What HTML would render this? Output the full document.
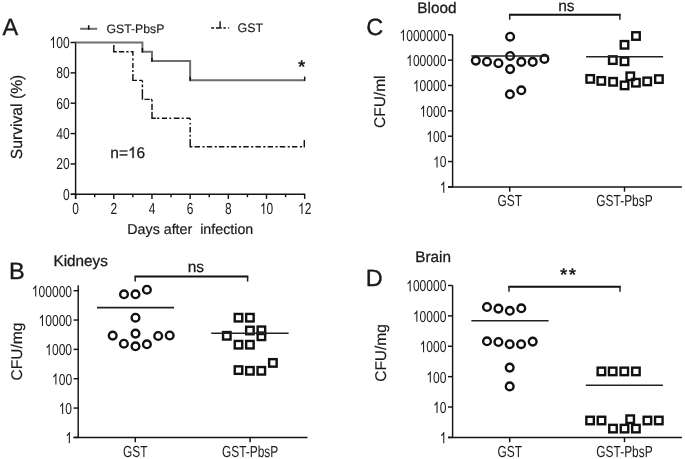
<!DOCTYPE html>
<html><head><meta charset="utf-8"><style>
html,body{margin:0;padding:0;background:#fff;}
svg{display:block;font-family:"Liberation Sans", sans-serif;will-change:transform;text-rendering:geometricPrecision;}
</style></head><body>
<svg width="685" height="459" viewBox="0 0 685 459">
<rect width="685" height="459" fill="#fff"/>
<text transform="translate(2.50,34.50)" font-size="23.5" text-anchor="start" font-weight="normal" fill="#1a1a1a" stroke="#1a1a1a" stroke-width="0.35">A</text>
<line x1="75.60" y1="41.80" x2="75.60" y2="198.90" stroke="#141414" stroke-width="1.45" />
<line x1="70.60" y1="194.30" x2="75.60" y2="194.30" stroke="#141414" stroke-width="1.45" />
<text transform="translate(69.70,199.70) scale(0.765,1)" font-size="15.8" text-anchor="end" font-weight="normal" fill="#1a1a1a">0</text>
<line x1="70.60" y1="163.94" x2="75.60" y2="163.94" stroke="#141414" stroke-width="1.45" />
<text transform="translate(69.70,169.34) scale(0.765,1)" font-size="15.8" text-anchor="end" font-weight="normal" fill="#1a1a1a">20</text>
<line x1="70.60" y1="133.58" x2="75.60" y2="133.58" stroke="#141414" stroke-width="1.45" />
<text transform="translate(69.70,138.98) scale(0.765,1)" font-size="15.8" text-anchor="end" font-weight="normal" fill="#1a1a1a">40</text>
<line x1="70.60" y1="103.22" x2="75.60" y2="103.22" stroke="#141414" stroke-width="1.45" />
<text transform="translate(69.70,108.62) scale(0.765,1)" font-size="15.8" text-anchor="end" font-weight="normal" fill="#1a1a1a">60</text>
<line x1="70.60" y1="72.86" x2="75.60" y2="72.86" stroke="#141414" stroke-width="1.45" />
<text transform="translate(69.70,78.26) scale(0.765,1)" font-size="15.8" text-anchor="end" font-weight="normal" fill="#1a1a1a">80</text>
<line x1="70.60" y1="42.50" x2="75.60" y2="42.50" stroke="#141414" stroke-width="1.45" />
<text transform="translate(69.70,47.90) scale(0.765,1)" font-size="15.8" text-anchor="end" font-weight="normal" fill="#1a1a1a"> 00</text>
<path transform="translate(49.53,47.90) scale(0.00590,-0.00771)" d="M763 0L583 0L583 1147C540 1106 484 1065 415 1024C346 983 284 952 229 931L229 1105C328 1152 414 1208 488 1274C562 1340 614 1404 645 1466L763 1466Z" fill="#1a1a1a"/>
<line x1="71.00" y1="194.30" x2="305.30" y2="194.30" stroke="#141414" stroke-width="1.45" />
<line x1="75.60" y1="194.30" x2="75.60" y2="198.90" stroke="#141414" stroke-width="1.45" />
<text transform="translate(75.60,214.10) scale(0.745,1)" font-size="16" text-anchor="middle" font-weight="normal" fill="#1a1a1a">0</text>
<line x1="94.69" y1="194.30" x2="94.69" y2="197.20" stroke="#141414" stroke-width="1.45" />
<line x1="113.78" y1="194.30" x2="113.78" y2="198.90" stroke="#141414" stroke-width="1.45" />
<text transform="translate(113.78,214.10) scale(0.745,1)" font-size="16" text-anchor="middle" font-weight="normal" fill="#1a1a1a">2</text>
<line x1="132.87" y1="194.30" x2="132.87" y2="197.20" stroke="#141414" stroke-width="1.45" />
<line x1="151.96" y1="194.30" x2="151.96" y2="198.90" stroke="#141414" stroke-width="1.45" />
<text transform="translate(151.96,214.10) scale(0.745,1)" font-size="16" text-anchor="middle" font-weight="normal" fill="#1a1a1a">4</text>
<line x1="171.05" y1="194.30" x2="171.05" y2="197.20" stroke="#141414" stroke-width="1.45" />
<line x1="190.14" y1="194.30" x2="190.14" y2="198.90" stroke="#141414" stroke-width="1.45" />
<text transform="translate(190.14,214.10) scale(0.745,1)" font-size="16" text-anchor="middle" font-weight="normal" fill="#1a1a1a">6</text>
<line x1="209.23" y1="194.30" x2="209.23" y2="197.20" stroke="#141414" stroke-width="1.45" />
<line x1="228.32" y1="194.30" x2="228.32" y2="198.90" stroke="#141414" stroke-width="1.45" />
<text transform="translate(228.32,214.10) scale(0.745,1)" font-size="16" text-anchor="middle" font-weight="normal" fill="#1a1a1a">8</text>
<line x1="247.41" y1="194.30" x2="247.41" y2="197.20" stroke="#141414" stroke-width="1.45" />
<line x1="266.50" y1="194.30" x2="266.50" y2="198.90" stroke="#141414" stroke-width="1.45" />
<text transform="translate(266.50,214.10) scale(0.745,1)" font-size="16" text-anchor="middle" font-weight="normal" fill="#1a1a1a"> 0</text>
<path transform="translate(259.87,214.10) scale(0.00582,-0.00781)" d="M763 0L583 0L583 1147C540 1106 484 1065 415 1024C346 983 284 952 229 931L229 1105C328 1152 414 1208 488 1274C562 1340 614 1404 645 1466L763 1466Z" fill="#1a1a1a"/>
<line x1="285.59" y1="194.30" x2="285.59" y2="197.20" stroke="#141414" stroke-width="1.45" />
<line x1="304.68" y1="194.30" x2="304.68" y2="198.90" stroke="#141414" stroke-width="1.45" />
<text transform="translate(304.68,214.10) scale(0.745,1)" font-size="16" text-anchor="middle" font-weight="normal" fill="#1a1a1a"> 2</text>
<path transform="translate(298.05,214.10) scale(0.00582,-0.00781)" d="M763 0L583 0L583 1147C540 1106 484 1065 415 1024C346 983 284 952 229 931L229 1105C328 1152 414 1208 488 1274C562 1340 614 1404 645 1466L763 1466Z" fill="#1a1a1a"/>
<text transform="translate(127.30,234.20)" font-size="14.25" text-anchor="start" font-weight="normal" fill="#1a1a1a" stroke="#1a1a1a" stroke-width="0.2">Days after&#160; infection</text>
<text transform="translate(22.00,159.20) rotate(-90) scale(0.98,1)" font-size="16" text-anchor="start" font-weight="normal" fill="#1a1a1a" stroke="#1a1a1a" stroke-width="0.2">Survival (%)</text>
<line x1="80.10" y1="28.80" x2="97.20" y2="28.80" stroke="#6e6e6e" stroke-width="2.0" />
<line x1="88.70" y1="25.20" x2="88.70" y2="29.70" stroke="#111" stroke-width="1.6" />
<text transform="translate(106.50,32.80)" font-size="12.25" text-anchor="start" font-weight="normal" fill="#1a1a1a" stroke="#1a1a1a" stroke-width="0.15">GST-PbsP</text>
<line x1="211.20" y1="27.95" x2="214.10" y2="27.95" stroke="#111" stroke-width="1.5" />
<line x1="216.00" y1="27.95" x2="221.70" y2="27.95" stroke="#111" stroke-width="1.5" />
<line x1="223.40" y1="27.95" x2="225.80" y2="27.95" stroke="#111" stroke-width="1.5" />
<line x1="227.90" y1="27.95" x2="229.10" y2="27.95" stroke="#444" stroke-width="1.5" />
<line x1="220.10" y1="21.30" x2="220.10" y2="28.00" stroke="#222" stroke-width="1.5" />
<text transform="translate(237.60,32.00)" font-size="12.4" text-anchor="start" font-weight="normal" fill="#1a1a1a" stroke="#1a1a1a" stroke-width="0.15">GST</text>
<path d="M75.6,42.60 H142.41 V51.75 H151.96 V61.10 H190.14 V80.15 H304.68" stroke="#6e6e6e" stroke-width="2.0" fill="none"/>
<line x1="142.41" y1="47.95" x2="142.41" y2="52.45" stroke="#111" stroke-width="1.5" />
<line x1="151.96" y1="57.70" x2="151.96" y2="61.80" stroke="#111" stroke-width="1.5" />
<line x1="190.14" y1="76.75" x2="190.14" y2="80.85" stroke="#111" stroke-width="1.5" />
<line x1="304.68" y1="76.55" x2="304.68" y2="80.95" stroke="#111" stroke-width="1.45" />
<path d="M113.80,42.50 L113.80,51.80 L132.90,51.80 L132.90,80.35 L142.40,80.35 L142.40,99.35 L152.00,99.35 L152.00,118.30 L190.20,118.30 L190.20,146.70 L304.50,146.70" stroke="#111" stroke-width="1.45" fill="none" stroke-dasharray="0.00,2.40,9.90,2.10,5.30,2.10,2.30,2.10,6.20,2.40,2.30,2.40,5.10,2.00,1.90,2.00,10.55,2.10,3.30,0.05,2.10,2.00,2.80,2.00,10.10,2.05,5.30,1.10,1.10,0.05,2.40,2.00,6.20,1.80,10.30,1.30,2.20,2.60,5.10,2.30,1.90,2.60,5.70,2.30,1.90,2.60,3.90,0.10,1.50,3.10,1.60,2.30,5.50,2.40,1.90,2.40,9.80,2.20,5.40,2.50,2.10,2.17,5.40,2.50,2.10,2.17,5.40,2.50,2.10,2.17,5.40,2.50,2.10,2.17,5.40,2.50,2.10,2.17,5.40,2.50,2.10,2.17,5.40,2.50,2.10,2.17,5.40,2.50,2.10,2.17,5.40,2.50,2.10,7.54"/>
<line x1="304.30" y1="140.10" x2="304.30" y2="147.40" stroke="#111" stroke-width="1.45" />
<text transform="translate(301.60,72.60)" font-size="18.7" text-anchor="middle" font-weight="bold" fill="#1a1a1a">*</text>
<text transform="translate(110.30,157.90)" font-size="15.5" text-anchor="start" font-weight="normal" fill="#1a1a1a" stroke="#1a1a1a" stroke-width="0.25">n= 6</text>
<path transform="translate(127.97,157.9) scale(0.00757,-0.00757)" d="M763 0L583 0L583 1147C540 1106 484 1065 415 1024C346 983 284 952 229 931L229 1105C328 1152 414 1208 488 1274C562 1340 614 1404 645 1466L763 1466Z" fill="#1a1a1a" stroke="#1a1a1a" stroke-width="33.0"/>
<text transform="translate(9.00,279.30)" font-size="23.5" text-anchor="start" font-weight="normal" fill="#1a1a1a" stroke="#1a1a1a" stroke-width="0.35">B</text>
<text transform="translate(53.50,265.80)" font-size="15.3" text-anchor="start" font-weight="normal" fill="#1a1a1a" stroke="#1a1a1a" stroke-width="0.3">Kidneys</text>
<text transform="translate(22.20,380.40) rotate(-90)" font-size="15.5" text-anchor="start" font-weight="normal" fill="#1a1a1a" stroke="#1a1a1a" stroke-width="0.15">CFU/mg</text>
<line x1="78.20" y1="285.30" x2="78.20" y2="438.05" stroke="#141414" stroke-width="1.45" />
<line x1="73.60" y1="437.40" x2="78.20" y2="437.40" stroke="#141414" stroke-width="1.45" />
<path transform="translate(65.38,443.30) scale(0.00590,-0.00771)" d="M763 0L583 0L583 1147C540 1106 484 1065 415 1024C346 983 284 952 229 931L229 1105C328 1152 414 1208 488 1274C562 1340 614 1404 645 1466L763 1466Z" fill="#1a1a1a"/>
<line x1="73.60" y1="408.06" x2="78.20" y2="408.06" stroke="#141414" stroke-width="1.45" />
<text transform="translate(72.10,413.96) scale(0.765,1)" font-size="15.8" text-anchor="end" font-weight="normal" fill="#1a1a1a"> 0</text>
<path transform="translate(58.66,413.96) scale(0.00590,-0.00771)" d="M763 0L583 0L583 1147C540 1106 484 1065 415 1024C346 983 284 952 229 931L229 1105C328 1152 414 1208 488 1274C562 1340 614 1404 645 1466L763 1466Z" fill="#1a1a1a"/>
<line x1="73.60" y1="378.72" x2="78.20" y2="378.72" stroke="#141414" stroke-width="1.45" />
<text transform="translate(72.10,384.62) scale(0.765,1)" font-size="15.8" text-anchor="end" font-weight="normal" fill="#1a1a1a"> 00</text>
<path transform="translate(51.93,384.62) scale(0.00590,-0.00771)" d="M763 0L583 0L583 1147C540 1106 484 1065 415 1024C346 983 284 952 229 931L229 1105C328 1152 414 1208 488 1274C562 1340 614 1404 645 1466L763 1466Z" fill="#1a1a1a"/>
<line x1="73.60" y1="349.38" x2="78.20" y2="349.38" stroke="#141414" stroke-width="1.45" />
<text transform="translate(72.10,355.28) scale(0.765,1)" font-size="15.8" text-anchor="end" font-weight="normal" fill="#1a1a1a"> 000</text>
<path transform="translate(45.21,355.28) scale(0.00590,-0.00771)" d="M763 0L583 0L583 1147C540 1106 484 1065 415 1024C346 983 284 952 229 931L229 1105C328 1152 414 1208 488 1274C562 1340 614 1404 645 1466L763 1466Z" fill="#1a1a1a"/>
<line x1="73.60" y1="320.04" x2="78.20" y2="320.04" stroke="#141414" stroke-width="1.45" />
<text transform="translate(72.10,325.94) scale(0.765,1)" font-size="15.8" text-anchor="end" font-weight="normal" fill="#1a1a1a"> 0000</text>
<path transform="translate(38.49,325.94) scale(0.00590,-0.00771)" d="M763 0L583 0L583 1147C540 1106 484 1065 415 1024C346 983 284 952 229 931L229 1105C328 1152 414 1208 488 1274C562 1340 614 1404 645 1466L763 1466Z" fill="#1a1a1a"/>
<line x1="73.60" y1="290.70" x2="78.20" y2="290.70" stroke="#141414" stroke-width="1.45" />
<text transform="translate(72.10,296.60) scale(0.765,1)" font-size="15.8" text-anchor="end" font-weight="normal" fill="#1a1a1a"> 00000</text>
<path transform="translate(31.77,296.60) scale(0.00590,-0.00771)" d="M763 0L583 0L583 1147C540 1106 484 1065 415 1024C346 983 284 952 229 931L229 1105C328 1152 414 1208 488 1274C562 1340 614 1404 645 1466L763 1466Z" fill="#1a1a1a"/>
<line x1="73.60" y1="437.40" x2="307.50" y2="437.40" stroke="#141414" stroke-width="1.45" />
<line x1="135.30" y1="437.40" x2="135.30" y2="442.20" stroke="#141414" stroke-width="1.45" />
<line x1="250.10" y1="437.40" x2="250.10" y2="442.20" stroke="#141414" stroke-width="1.45" />
<text transform="translate(135.30,456.70) scale(0.745,1)" font-size="16" text-anchor="middle" font-weight="normal" fill="#1a1a1a">GST</text>
<text transform="translate(250.10,456.70) scale(0.745,1)" font-size="16" text-anchor="middle" font-weight="normal" fill="#1a1a1a">GST-PbsP</text>
<line x1="134.45" y1="276.50" x2="248.35" y2="276.50" stroke="#111" stroke-width="2.1" />
<line x1="135.20" y1="276.50" x2="135.20" y2="281.60" stroke="#222" stroke-width="1.5" />
<line x1="247.60" y1="276.50" x2="247.60" y2="281.60" stroke="#222" stroke-width="1.5" />
<text transform="translate(195.90,271.65)" font-size="15.5" text-anchor="middle" font-weight="normal" fill="#1a1a1a" stroke="#1a1a1a" stroke-width="0.25">ns</text>
<circle cx="124" cy="294.3" r="3.85" stroke="#111" stroke-width="2.4" fill="none"/>
<circle cx="135.5" cy="294.3" r="3.85" stroke="#111" stroke-width="2.4" fill="none"/>
<circle cx="146.9" cy="289.7" r="3.85" stroke="#111" stroke-width="2.4" fill="none"/>
<circle cx="135.5" cy="317.7" r="3.85" stroke="#111" stroke-width="2.4" fill="none"/>
<circle cx="112.7" cy="335.6" r="3.85" stroke="#111" stroke-width="2.4" fill="none"/>
<circle cx="135.5" cy="333.6" r="3.85" stroke="#111" stroke-width="2.4" fill="none"/>
<circle cx="158.2" cy="336.0" r="3.85" stroke="#111" stroke-width="2.4" fill="none"/>
<circle cx="169.7" cy="335.5" r="3.85" stroke="#111" stroke-width="2.4" fill="none"/>
<circle cx="123.9" cy="343.7" r="3.85" stroke="#111" stroke-width="2.4" fill="none"/>
<circle cx="135.5" cy="346.3" r="3.85" stroke="#111" stroke-width="2.4" fill="none"/>
<circle cx="146.9" cy="344.3" r="3.85" stroke="#111" stroke-width="2.4" fill="none"/>
<rect x="234.75" y="313.95" width="7.5" height="7.5" stroke="#111" stroke-width="2.4" fill="none"/>
<rect x="246.15" y="313.95" width="7.5" height="7.5" stroke="#111" stroke-width="2.4" fill="none"/>
<rect x="246.15" y="326.75" width="7.5" height="7.5" stroke="#111" stroke-width="2.4" fill="none"/>
<rect x="257.65" y="326.55" width="7.5" height="7.5" stroke="#111" stroke-width="2.4" fill="none"/>
<rect x="257.65" y="332.55" width="7.5" height="7.5" stroke="#111" stroke-width="2.4" fill="none"/>
<rect x="223.05" y="332.05" width="7.5" height="7.5" stroke="#111" stroke-width="2.4" fill="none"/>
<rect x="234.75" y="340.95" width="7.5" height="7.5" stroke="#111" stroke-width="2.4" fill="none"/>
<rect x="246.15" y="340.95" width="7.5" height="7.5" stroke="#111" stroke-width="2.4" fill="none"/>
<rect x="269.15" y="359.15" width="7.5" height="7.5" stroke="#111" stroke-width="2.4" fill="none"/>
<rect x="234.75" y="366.35" width="7.5" height="7.5" stroke="#111" stroke-width="2.4" fill="none"/>
<rect x="246.15" y="367.05" width="7.5" height="7.5" stroke="#111" stroke-width="2.4" fill="none"/>
<rect x="257.55" y="367.05" width="7.5" height="7.5" stroke="#111" stroke-width="2.4" fill="none"/>
<line x1="97.00" y1="307.60" x2="174.10" y2="307.60" stroke="#222" stroke-width="1.6" />
<line x1="211.20" y1="333.20" x2="288.60" y2="333.20" stroke="#222" stroke-width="1.6" />
<text transform="translate(366.30,35.40)" font-size="23.5" text-anchor="start" font-weight="normal" fill="#1a1a1a" stroke="#1a1a1a" stroke-width="0.35">C</text>
<text transform="translate(417.30,13.00)" font-size="15.3" text-anchor="start" font-weight="normal" fill="#1a1a1a" stroke="#1a1a1a" stroke-width="0.3">Blood</text>
<text transform="translate(384.90,128.00) rotate(-90)" font-size="15.5" text-anchor="start" font-weight="normal" fill="#1a1a1a" stroke="#1a1a1a" stroke-width="0.15">CFU/ml</text>
<line x1="452.60" y1="34.80" x2="452.60" y2="187.55" stroke="#141414" stroke-width="1.45" />
<line x1="448.00" y1="186.90" x2="452.60" y2="186.90" stroke="#141414" stroke-width="1.45" />
<path transform="translate(439.78,192.80) scale(0.00590,-0.00771)" d="M763 0L583 0L583 1147C540 1106 484 1065 415 1024C346 983 284 952 229 931L229 1105C328 1152 414 1208 488 1274C562 1340 614 1404 645 1466L763 1466Z" fill="#1a1a1a"/>
<line x1="448.00" y1="161.55" x2="452.60" y2="161.55" stroke="#141414" stroke-width="1.45" />
<text transform="translate(446.50,167.45) scale(0.765,1)" font-size="15.8" text-anchor="end" font-weight="normal" fill="#1a1a1a"> 0</text>
<path transform="translate(433.06,167.45) scale(0.00590,-0.00771)" d="M763 0L583 0L583 1147C540 1106 484 1065 415 1024C346 983 284 952 229 931L229 1105C328 1152 414 1208 488 1274C562 1340 614 1404 645 1466L763 1466Z" fill="#1a1a1a"/>
<line x1="448.00" y1="136.20" x2="452.60" y2="136.20" stroke="#141414" stroke-width="1.45" />
<text transform="translate(446.50,142.10) scale(0.765,1)" font-size="15.8" text-anchor="end" font-weight="normal" fill="#1a1a1a"> 00</text>
<path transform="translate(426.33,142.10) scale(0.00590,-0.00771)" d="M763 0L583 0L583 1147C540 1106 484 1065 415 1024C346 983 284 952 229 931L229 1105C328 1152 414 1208 488 1274C562 1340 614 1404 645 1466L763 1466Z" fill="#1a1a1a"/>
<line x1="448.00" y1="110.85" x2="452.60" y2="110.85" stroke="#141414" stroke-width="1.45" />
<text transform="translate(446.50,116.75) scale(0.765,1)" font-size="15.8" text-anchor="end" font-weight="normal" fill="#1a1a1a"> 000</text>
<path transform="translate(419.61,116.75) scale(0.00590,-0.00771)" d="M763 0L583 0L583 1147C540 1106 484 1065 415 1024C346 983 284 952 229 931L229 1105C328 1152 414 1208 488 1274C562 1340 614 1404 645 1466L763 1466Z" fill="#1a1a1a"/>
<line x1="448.00" y1="85.50" x2="452.60" y2="85.50" stroke="#141414" stroke-width="1.45" />
<text transform="translate(446.50,91.40) scale(0.765,1)" font-size="15.8" text-anchor="end" font-weight="normal" fill="#1a1a1a"> 0000</text>
<path transform="translate(412.89,91.40) scale(0.00590,-0.00771)" d="M763 0L583 0L583 1147C540 1106 484 1065 415 1024C346 983 284 952 229 931L229 1105C328 1152 414 1208 488 1274C562 1340 614 1404 645 1466L763 1466Z" fill="#1a1a1a"/>
<line x1="448.00" y1="60.15" x2="452.60" y2="60.15" stroke="#141414" stroke-width="1.45" />
<text transform="translate(446.50,66.05) scale(0.765,1)" font-size="15.8" text-anchor="end" font-weight="normal" fill="#1a1a1a"> 00000</text>
<path transform="translate(406.17,66.05) scale(0.00590,-0.00771)" d="M763 0L583 0L583 1147C540 1106 484 1065 415 1024C346 983 284 952 229 931L229 1105C328 1152 414 1208 488 1274C562 1340 614 1404 645 1466L763 1466Z" fill="#1a1a1a"/>
<line x1="448.00" y1="34.80" x2="452.60" y2="34.80" stroke="#141414" stroke-width="1.45" />
<text transform="translate(446.50,40.70) scale(0.765,1)" font-size="15.8" text-anchor="end" font-weight="normal" fill="#1a1a1a"> 000000</text>
<path transform="translate(399.44,40.70) scale(0.00590,-0.00771)" d="M763 0L583 0L583 1147C540 1106 484 1065 415 1024C346 983 284 952 229 931L229 1105C328 1152 414 1208 488 1274C562 1340 614 1404 645 1466L763 1466Z" fill="#1a1a1a"/>
<line x1="448.00" y1="186.90" x2="681.90" y2="186.90" stroke="#141414" stroke-width="1.45" />
<line x1="509.70" y1="186.90" x2="509.70" y2="191.70" stroke="#141414" stroke-width="1.45" />
<line x1="624.50" y1="186.90" x2="624.50" y2="191.70" stroke="#141414" stroke-width="1.45" />
<text transform="translate(509.70,206.20) scale(0.745,1)" font-size="16" text-anchor="middle" font-weight="normal" fill="#1a1a1a">GST</text>
<text transform="translate(624.50,206.20) scale(0.745,1)" font-size="16" text-anchor="middle" font-weight="normal" fill="#1a1a1a">GST-PbsP</text>
<line x1="508.95" y1="14.80" x2="620.65" y2="14.80" stroke="#111" stroke-width="2.1" />
<line x1="509.70" y1="14.80" x2="509.70" y2="19.70" stroke="#222" stroke-width="1.5" />
<line x1="619.90" y1="14.80" x2="619.90" y2="19.70" stroke="#222" stroke-width="1.5" />
<text transform="translate(566.40,10.50)" font-size="15.5" text-anchor="middle" font-weight="normal" fill="#1a1a1a" stroke="#1a1a1a" stroke-width="0.25">ns</text>
<circle cx="510.1" cy="36.7" r="3.85" stroke="#111" stroke-width="2.4" fill="none"/>
<circle cx="510.1" cy="56.0" r="3.85" stroke="#111" stroke-width="2.4" fill="none"/>
<circle cx="475.8" cy="60.6" r="3.85" stroke="#111" stroke-width="2.4" fill="none"/>
<circle cx="487.0" cy="61.7" r="3.85" stroke="#111" stroke-width="2.4" fill="none"/>
<circle cx="498.4" cy="63.2" r="3.85" stroke="#111" stroke-width="2.4" fill="none"/>
<circle cx="521.3" cy="61.9" r="3.85" stroke="#111" stroke-width="2.4" fill="none"/>
<circle cx="532.7" cy="61.9" r="3.85" stroke="#111" stroke-width="2.4" fill="none"/>
<circle cx="544.4" cy="58.9" r="3.85" stroke="#111" stroke-width="2.4" fill="none"/>
<circle cx="510.1" cy="69.1" r="3.85" stroke="#111" stroke-width="2.4" fill="none"/>
<circle cx="509.9" cy="94.3" r="3.85" stroke="#111" stroke-width="2.4" fill="none"/>
<circle cx="521.3" cy="90.3" r="3.85" stroke="#111" stroke-width="2.4" fill="none"/>
<rect x="632.25" y="32.25" width="7.5" height="7.5" stroke="#111" stroke-width="2.4" fill="none"/>
<rect x="620.75" y="41.05" width="7.5" height="7.5" stroke="#111" stroke-width="2.4" fill="none"/>
<rect x="609.05" y="56.35" width="7.5" height="7.5" stroke="#111" stroke-width="2.4" fill="none"/>
<rect x="620.75" y="57.55" width="7.5" height="7.5" stroke="#111" stroke-width="2.4" fill="none"/>
<rect x="586.45" y="75.15" width="7.5" height="7.5" stroke="#111" stroke-width="2.4" fill="none"/>
<rect x="597.55" y="77.15" width="7.5" height="7.5" stroke="#111" stroke-width="2.4" fill="none"/>
<rect x="609.35" y="78.05" width="7.5" height="7.5" stroke="#111" stroke-width="2.4" fill="none"/>
<rect x="620.85" y="81.65" width="7.5" height="7.5" stroke="#111" stroke-width="2.4" fill="none"/>
<rect x="626.55" y="72.55" width="7.5" height="7.5" stroke="#111" stroke-width="2.4" fill="none"/>
<rect x="632.15" y="78.95" width="7.5" height="7.5" stroke="#111" stroke-width="2.4" fill="none"/>
<rect x="643.45" y="77.65" width="7.5" height="7.5" stroke="#111" stroke-width="2.4" fill="none"/>
<rect x="655.15" y="75.35" width="7.5" height="7.5" stroke="#111" stroke-width="2.4" fill="none"/>
<line x1="471.30" y1="56.00" x2="548.60" y2="56.00" stroke="#222" stroke-width="1.6" />
<line x1="586.10" y1="56.70" x2="663.10" y2="56.70" stroke="#222" stroke-width="1.6" />
<text transform="translate(365.70,285.90)" font-size="23.5" text-anchor="start" font-weight="normal" fill="#1a1a1a" stroke="#1a1a1a" stroke-width="0.35">D</text>
<text transform="translate(415.30,261.80)" font-size="15.3" text-anchor="start" font-weight="normal" fill="#1a1a1a" stroke="#1a1a1a" stroke-width="0.3">Brain</text>
<text transform="translate(385.70,381.80) rotate(-90)" font-size="15.5" text-anchor="start" font-weight="normal" fill="#1a1a1a" stroke="#1a1a1a" stroke-width="0.15">CFU/mg</text>
<line x1="452.60" y1="285.50" x2="452.60" y2="438.05" stroke="#141414" stroke-width="1.45" />
<line x1="448.00" y1="437.40" x2="452.60" y2="437.40" stroke="#141414" stroke-width="1.45" />
<path transform="translate(439.78,443.30) scale(0.00590,-0.00771)" d="M763 0L583 0L583 1147C540 1106 484 1065 415 1024C346 983 284 952 229 931L229 1105C328 1152 414 1208 488 1274C562 1340 614 1404 645 1466L763 1466Z" fill="#1a1a1a"/>
<line x1="448.00" y1="407.02" x2="452.60" y2="407.02" stroke="#141414" stroke-width="1.45" />
<text transform="translate(446.50,412.92) scale(0.765,1)" font-size="15.8" text-anchor="end" font-weight="normal" fill="#1a1a1a"> 0</text>
<path transform="translate(433.06,412.92) scale(0.00590,-0.00771)" d="M763 0L583 0L583 1147C540 1106 484 1065 415 1024C346 983 284 952 229 931L229 1105C328 1152 414 1208 488 1274C562 1340 614 1404 645 1466L763 1466Z" fill="#1a1a1a"/>
<line x1="448.00" y1="376.64" x2="452.60" y2="376.64" stroke="#141414" stroke-width="1.45" />
<text transform="translate(446.50,382.54) scale(0.765,1)" font-size="15.8" text-anchor="end" font-weight="normal" fill="#1a1a1a"> 00</text>
<path transform="translate(426.33,382.54) scale(0.00590,-0.00771)" d="M763 0L583 0L583 1147C540 1106 484 1065 415 1024C346 983 284 952 229 931L229 1105C328 1152 414 1208 488 1274C562 1340 614 1404 645 1466L763 1466Z" fill="#1a1a1a"/>
<line x1="448.00" y1="346.26" x2="452.60" y2="346.26" stroke="#141414" stroke-width="1.45" />
<text transform="translate(446.50,352.16) scale(0.765,1)" font-size="15.8" text-anchor="end" font-weight="normal" fill="#1a1a1a"> 000</text>
<path transform="translate(419.61,352.16) scale(0.00590,-0.00771)" d="M763 0L583 0L583 1147C540 1106 484 1065 415 1024C346 983 284 952 229 931L229 1105C328 1152 414 1208 488 1274C562 1340 614 1404 645 1466L763 1466Z" fill="#1a1a1a"/>
<line x1="448.00" y1="315.88" x2="452.60" y2="315.88" stroke="#141414" stroke-width="1.45" />
<text transform="translate(446.50,321.78) scale(0.765,1)" font-size="15.8" text-anchor="end" font-weight="normal" fill="#1a1a1a"> 0000</text>
<path transform="translate(412.89,321.78) scale(0.00590,-0.00771)" d="M763 0L583 0L583 1147C540 1106 484 1065 415 1024C346 983 284 952 229 931L229 1105C328 1152 414 1208 488 1274C562 1340 614 1404 645 1466L763 1466Z" fill="#1a1a1a"/>
<line x1="448.00" y1="285.50" x2="452.60" y2="285.50" stroke="#141414" stroke-width="1.45" />
<text transform="translate(446.50,291.40) scale(0.765,1)" font-size="15.8" text-anchor="end" font-weight="normal" fill="#1a1a1a"> 00000</text>
<path transform="translate(406.17,291.40) scale(0.00590,-0.00771)" d="M763 0L583 0L583 1147C540 1106 484 1065 415 1024C346 983 284 952 229 931L229 1105C328 1152 414 1208 488 1274C562 1340 614 1404 645 1466L763 1466Z" fill="#1a1a1a"/>
<line x1="448.00" y1="437.40" x2="681.90" y2="437.40" stroke="#141414" stroke-width="1.45" />
<line x1="509.70" y1="437.40" x2="509.70" y2="442.20" stroke="#141414" stroke-width="1.45" />
<line x1="624.50" y1="437.40" x2="624.50" y2="442.20" stroke="#141414" stroke-width="1.45" />
<text transform="translate(509.70,456.70) scale(0.745,1)" font-size="16" text-anchor="middle" font-weight="normal" fill="#1a1a1a">GST</text>
<text transform="translate(624.50,456.70) scale(0.745,1)" font-size="16" text-anchor="middle" font-weight="normal" fill="#1a1a1a">GST-PbsP</text>
<line x1="508.25" y1="286.80" x2="620.75" y2="286.80" stroke="#111" stroke-width="2.1" />
<line x1="509.00" y1="286.80" x2="509.00" y2="291.80" stroke="#222" stroke-width="1.5" />
<line x1="620.00" y1="286.80" x2="620.00" y2="291.80" stroke="#222" stroke-width="1.5" />
<text transform="translate(563.60,280.60)" font-size="18.7" text-anchor="middle" font-weight="bold" fill="#1a1a1a">*</text>
<text transform="translate(572.50,280.60)" font-size="18.7" text-anchor="middle" font-weight="bold" fill="#1a1a1a">*</text>
<circle cx="487" cy="307" r="3.85" stroke="#111" stroke-width="2.4" fill="none"/>
<circle cx="498.4" cy="308.6" r="3.85" stroke="#111" stroke-width="2.4" fill="none"/>
<circle cx="509.8" cy="310.8" r="3.85" stroke="#111" stroke-width="2.4" fill="none"/>
<circle cx="521.3" cy="308.3" r="3.85" stroke="#111" stroke-width="2.4" fill="none"/>
<circle cx="487" cy="341.3" r="3.85" stroke="#111" stroke-width="2.4" fill="none"/>
<circle cx="498.4" cy="342.0" r="3.85" stroke="#111" stroke-width="2.4" fill="none"/>
<circle cx="509.7" cy="344.2" r="3.85" stroke="#111" stroke-width="2.4" fill="none"/>
<circle cx="521.1" cy="344.2" r="3.85" stroke="#111" stroke-width="2.4" fill="none"/>
<circle cx="532.7" cy="341.6" r="3.85" stroke="#111" stroke-width="2.4" fill="none"/>
<circle cx="509.7" cy="367.6" r="3.85" stroke="#111" stroke-width="2.4" fill="none"/>
<circle cx="509.7" cy="386.4" r="3.85" stroke="#111" stroke-width="2.4" fill="none"/>
<rect x="597.65" y="367.65" width="7.5" height="7.5" stroke="#111" stroke-width="2.4" fill="none"/>
<rect x="608.95" y="367.65" width="7.5" height="7.5" stroke="#111" stroke-width="2.4" fill="none"/>
<rect x="620.55" y="367.65" width="7.5" height="7.5" stroke="#111" stroke-width="2.4" fill="none"/>
<rect x="632.15" y="367.65" width="7.5" height="7.5" stroke="#111" stroke-width="2.4" fill="none"/>
<rect x="586.35" y="416.75" width="7.5" height="7.5" stroke="#111" stroke-width="2.4" fill="none"/>
<rect x="597.75" y="416.75" width="7.5" height="7.5" stroke="#111" stroke-width="2.4" fill="none"/>
<rect x="609.25" y="424.85" width="7.5" height="7.5" stroke="#111" stroke-width="2.4" fill="none"/>
<rect x="620.75" y="424.85" width="7.5" height="7.5" stroke="#111" stroke-width="2.4" fill="none"/>
<rect x="626.45" y="415.45" width="7.5" height="7.5" stroke="#111" stroke-width="2.4" fill="none"/>
<rect x="632.15" y="424.85" width="7.5" height="7.5" stroke="#111" stroke-width="2.4" fill="none"/>
<rect x="643.65" y="416.75" width="7.5" height="7.5" stroke="#111" stroke-width="2.4" fill="none"/>
<rect x="655.05" y="416.75" width="7.5" height="7.5" stroke="#111" stroke-width="2.4" fill="none"/>
<line x1="471.40" y1="320.70" x2="548.60" y2="320.70" stroke="#222" stroke-width="1.6" />
<line x1="585.80" y1="385.20" x2="662.90" y2="385.20" stroke="#222" stroke-width="1.6" />
</svg>
</body></html>
